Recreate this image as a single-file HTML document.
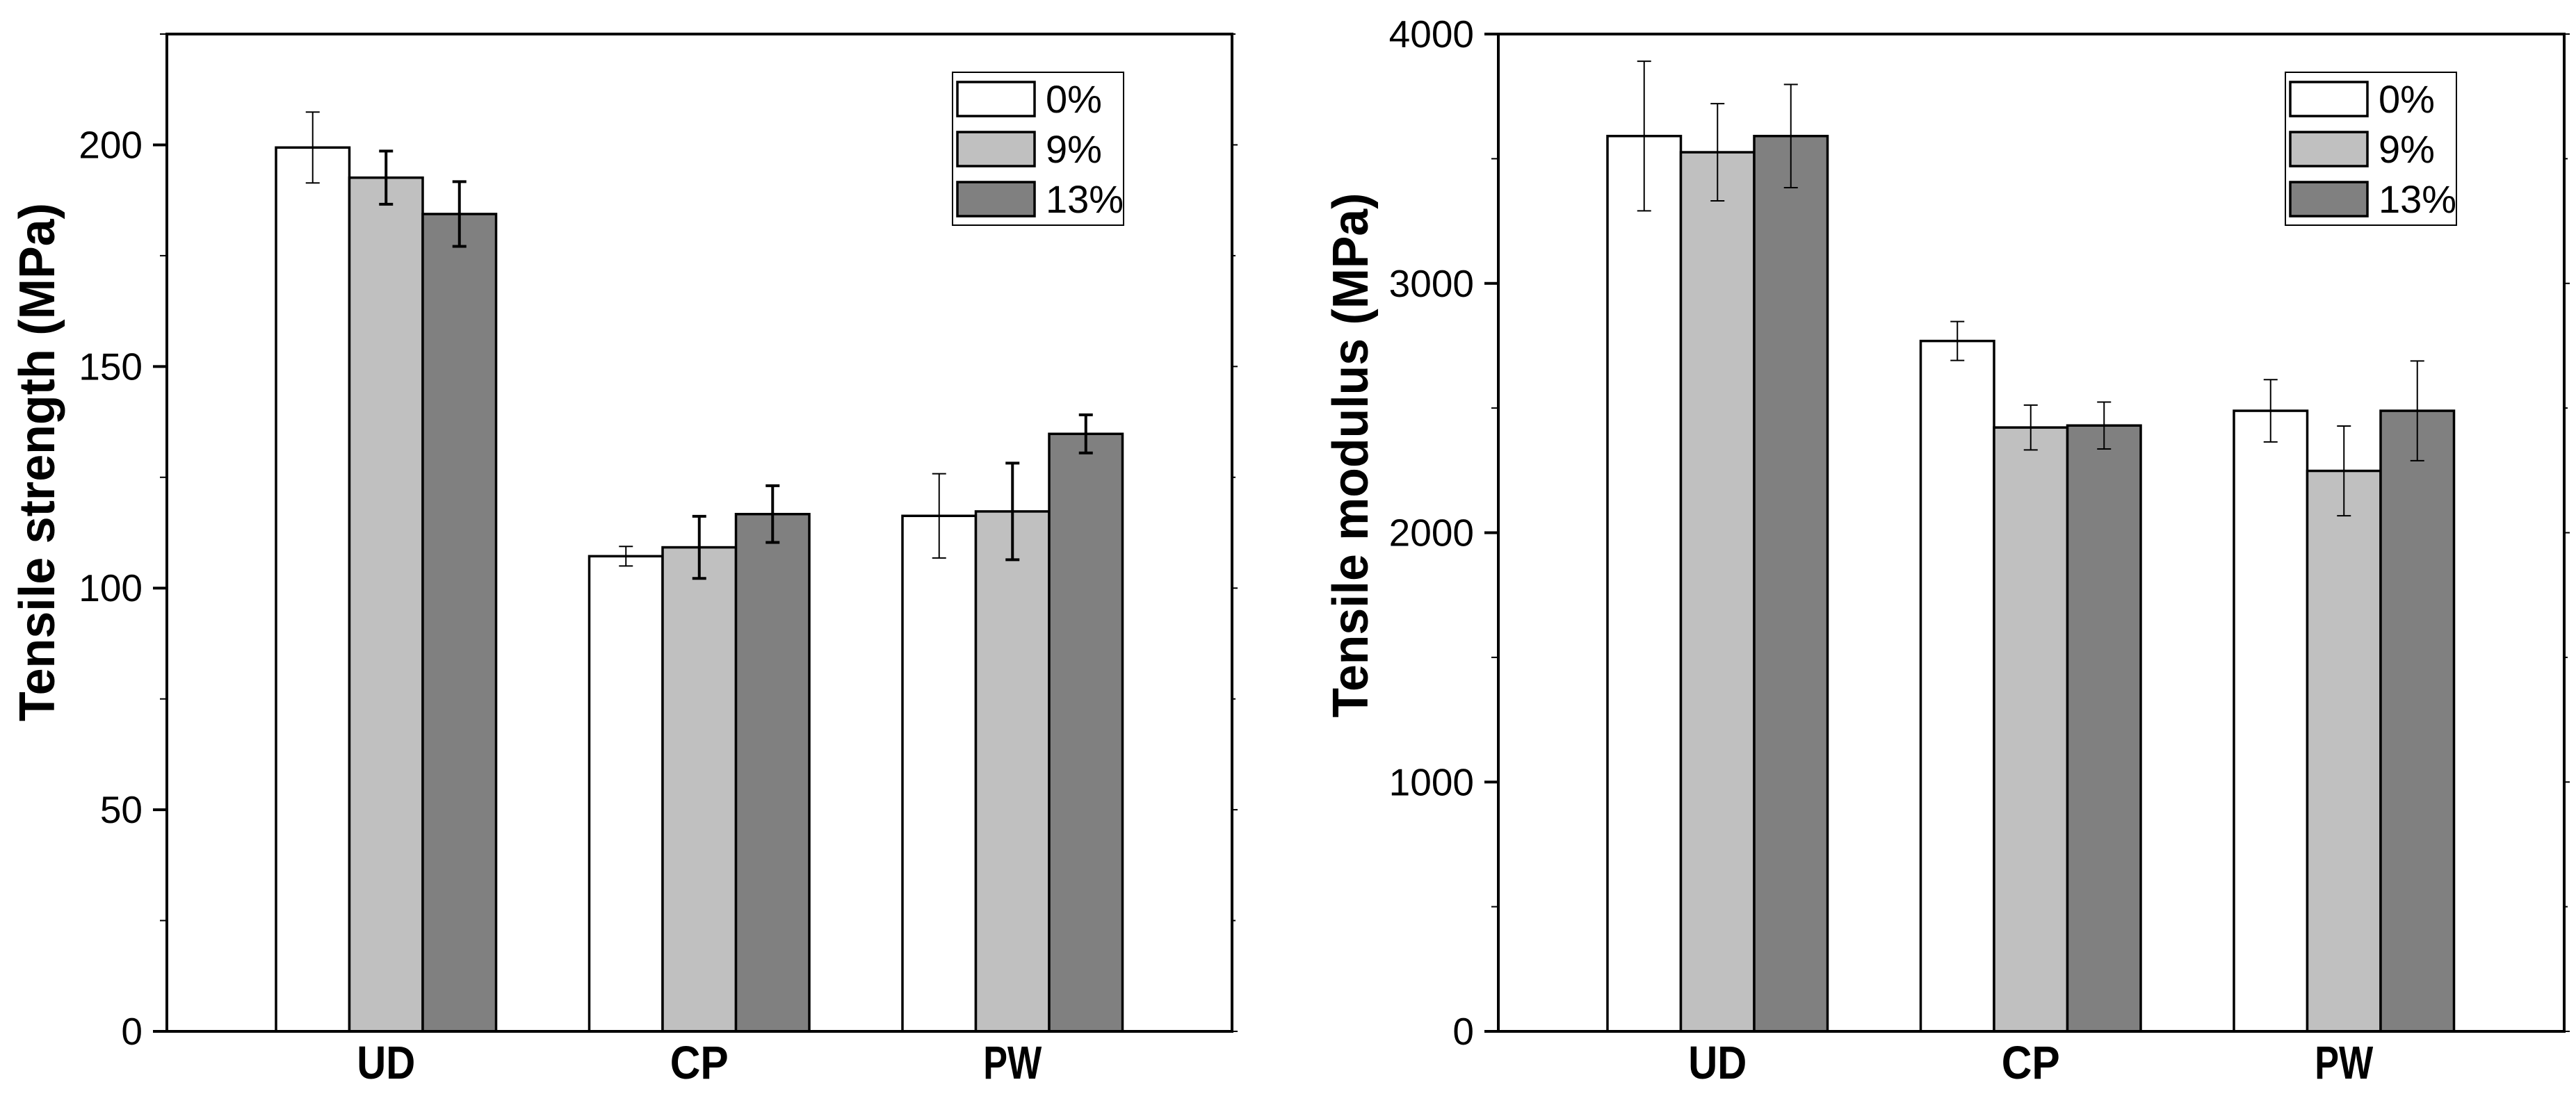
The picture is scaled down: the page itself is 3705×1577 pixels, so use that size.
<!DOCTYPE html>
<html><head><meta charset="utf-8"><style>
html,body{margin:0;padding:0;background:#fff;}
svg{display:block;font-family:"Liberation Sans",Arial,sans-serif;}
</style></head><body>
<svg id="chart" width="3705" height="1577" viewBox="0 0 3705 1577" xmlns="http://www.w3.org/2000/svg">
<g id="left"></g>
<g id="right"></g>
</svg>
<script>
const categories = ["UD", "CP", "PW"];
const seriesNames = ["0%", "9%", "13%"];
const strength0 = [199.4, 107.2, 116.3];
const strength9 = [192.6, 109.2, 117.3];
const strength13 = [184.4, 116.7, 134.8];
const strengthErr0 = [8, 2.2, 9.5];
const strengthErr9 = [6, 7, 10.9];
const strengthErr13 = [7.3, 6.4, 4.3];
const strengthTicks = [0, 50, 100, 150, 200];
const modulus0 = [3591, 2769, 2489];
const modulus9 = [3526, 2422, 2248];
const modulus13 = [3591, 2430, 2489];
const modulusErr0 = [300, 78, 125];
const modulusErr9 = [195, 90, 180];
const modulusErr13 = [207, 94, 200];
const modulusTicks = [0, 1000, 2000, 3000, 4000];

const NS = "http://www.w3.org/2000/svg";
function mk(parent, tag, attrs, text) {
  const e = document.createElementNS(NS, tag);
  for (const k in attrs) e.setAttribute(k, attrs[k]);
  if (text !== undefined) e.textContent = text;
  parent.appendChild(e);
  return e;
}
const fills = ["#ffffff", "#c0c0c0", "#808080"];

function drawChart(g, cfg) {
  const yS = v => cfg.bottom - (v - 0) / cfg.ymax * (cfg.bottom - cfg.top);
  const groupLeft = i => cfg.firstBar + i * cfg.spacing;
  const bw = cfg.barW;
  cfg.series.forEach((vals, s) => {
    vals.forEach((v, i) => {
      const x = groupLeft(i) + s * bw;
      const r = mk(g, "rect", {x: x, y: yS(v), width: bw, height: cfg.bottom - yS(v), fill: fills[s], stroke: "#000", "stroke-width": 3.5});
      
      
    });
  });
  cfg.series.forEach((vals, s) => {
    vals.forEach((v, i) => {
      const cx = groupLeft(i) + s * bw + bw / 2;
      const e = cfg.errs[s][i];
      const sw = cfg.errW[s];
      const eg = mk(g, "g", {stroke: "#000", "stroke-width": sw});
      
      
      mk(eg, "line", {x1: cx, x2: cx, y1: yS(v + e), y2: yS(v - e)});
      mk(eg, "line", {x1: cx - 10, x2: cx + 10, y1: yS(v + e), y2: yS(v + e)});
      mk(eg, "line", {x1: cx - 10, x2: cx + 10, y1: yS(v - e), y2: yS(v - e)});
    });
  });
  const fr = mk(g, "rect", {x: cfg.left, y: cfg.top, width: cfg.right - cfg.left, height: cfg.bottom - cfg.top, fill: "none", stroke: "#000", "stroke-width": 4});
  
  
  const step = cfg.ticks[1] - cfg.ticks[0];
  for (let v = 0; v <= cfg.ymax + 1e-9; v += step / 2) {
    const y = yS(v);
    const major = Math.abs(v / step - Math.round(v / step)) < 1e-6;
    mk(g, "line", {x1: cfg.left - (major ? 20 : 10), x2: cfg.left, y1: y, y2: y, stroke: "#000", "stroke-width": major ? 4 : 2});
    mk(g, "line", {x1: cfg.right, x2: cfg.right + (major ? 8 : 5), y1: y, y2: y, stroke: "#000", "stroke-width": 2});
  }
  cfg.ticks.forEach(t => {
    const tl = mk(g, "text", {x: cfg.left - 35, y: yS(t) + 19, "text-anchor": "end", "font-size": 55}, String(t));
    
    
  });
  categories.forEach((c, i) => {
    const cx = groupLeft(i) + 1.5 * bw;
    const cl = mk(g, "text", {x: cx, y: 1552, "text-anchor": "middle", "font-size": 67, "font-weight": "bold", textLength: 84, lengthAdjust: "spacingAndGlyphs"}, c);
    
    
  });
  const yt = mk(g, "text", {x: 0, y: 0, transform: `translate(${cfg.titleX},${cfg.titleY}) rotate(-90)`, "text-anchor": "middle", "font-size": 72, "font-weight": "bold", textLength: cfg.titleLen, lengthAdjust: "spacingAndGlyphs"}, cfg.title);
  
  
  const lg = mk(g, "g", {});
  
  
  mk(lg, "rect", {x: cfg.legX, y: 104, width: 246, height: 220, fill: "#fff", stroke: "#000", "stroke-width": 2});
  seriesNames.forEach((n, s) => {
    const le = mk(lg, "g", {});
    
    
    mk(le, "rect", {x: cfg.legX + 7, y: 118 + s * 72, width: 111, height: 49, fill: fills[s], stroke: "#000", "stroke-width": 3.5});
    mk(le, "text", {x: cfg.legX + 134, y: 162 + s * 72, "font-size": 56}, n);
  });
}

drawChart(document.getElementById("left"), {
  left: 240, right: 1772, top: 49, bottom: 1484, ymax: 225,
  firstBar: 397, spacing: 450.5, barW: 105.5,
  series: [strength0, strength9, strength13],
  errs: [strengthErr0, strengthErr9, strengthErr13],
  errW: [2, 4, 4],
  ticks: strengthTicks,
  title: "Tensile strength (MPa)", titleX: 78, titleY: 665, titleLen: 746,
  legX: 1370
});
drawChart(document.getElementById("right"), {
  left: 2155, right: 3688, top: 49, bottom: 1484, ymax: 4000,
  firstBar: 2312, spacing: 450.5, barW: 105.5,
  series: [modulus0, modulus9, modulus13],
  errs: [modulusErr0, modulusErr9, modulusErr13],
  errW: [2, 2, 2],
  ticks: modulusTicks,
  title: "Tensile modulus (MPa)", titleX: 1967, titleY: 655, titleLen: 755,
  legX: 3287
});
</script>
</body></html>
